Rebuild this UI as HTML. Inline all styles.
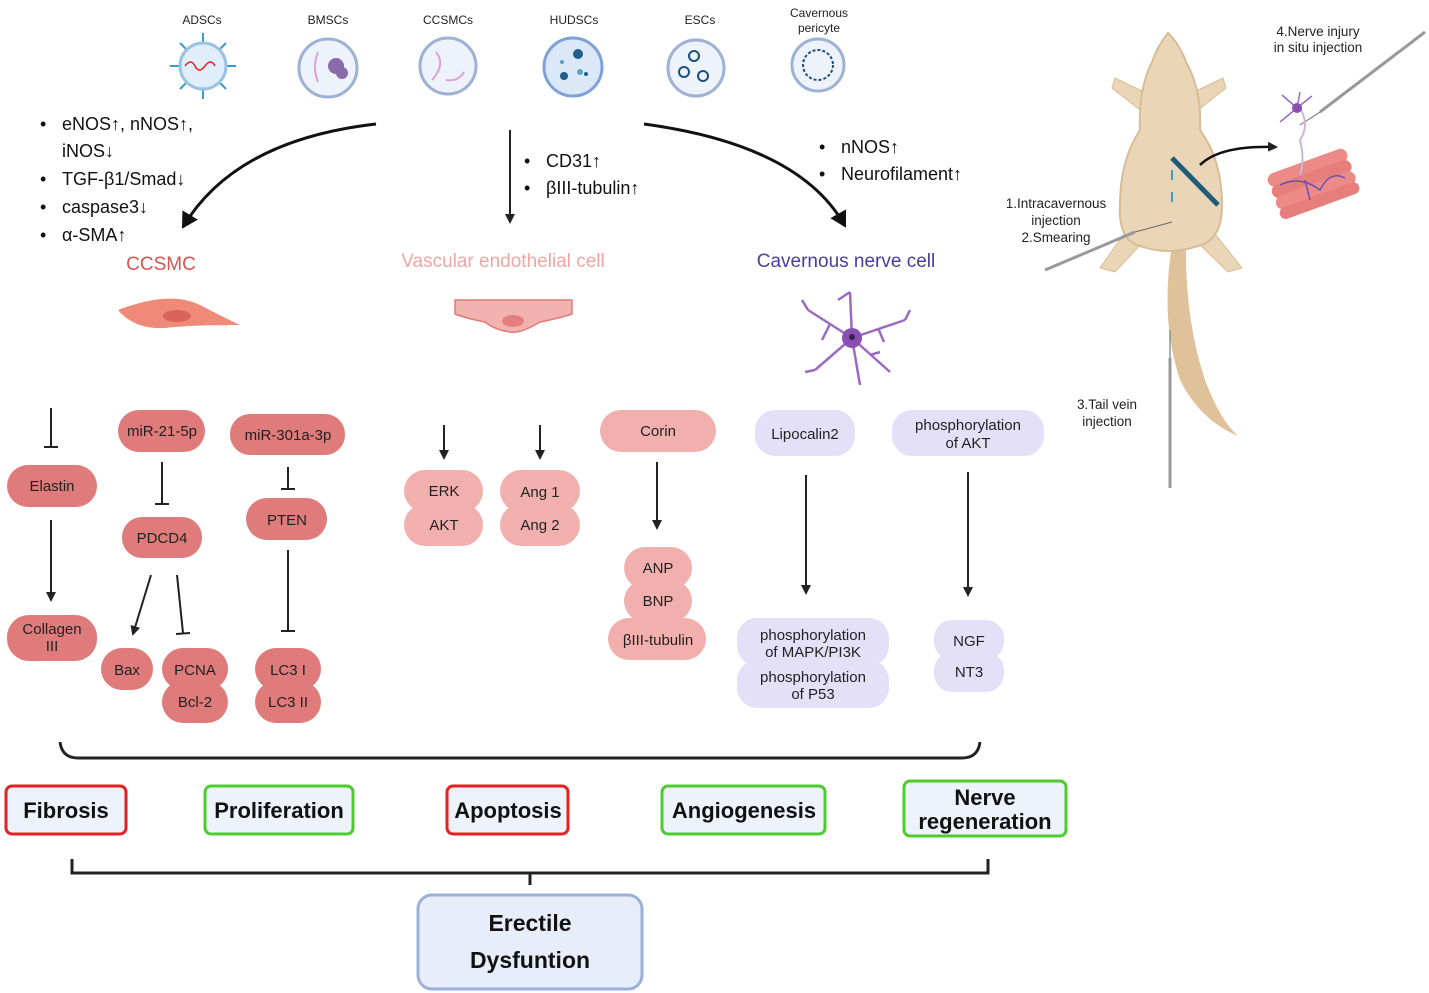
<!DOCTYPE html>
<html><head><meta charset="utf-8"><style>
body{margin:0;background:#fff}
svg{display:block}
text{font-family:"Liberation Sans",sans-serif}
.d{fill:#df7b7b}.l{fill:#f1b0ae}.v{fill:#e4e0f8}
.t{font-size:15px;fill:#222;text-anchor:middle}
</style></head><body>
<svg width="1429" height="993" viewBox="0 0 1429 993" xmlns="http://www.w3.org/2000/svg">
<defs><marker id="a" markerWidth="10" markerHeight="10" refX="8" refY="5" orient="auto" markerUnits="userSpaceOnUse"><path d="M0,0 L10,5 L0,10 z" fill="#222"/></marker>
<marker id="A" markerWidth="18" markerHeight="18" refX="14" refY="9" orient="auto" markerUnits="userSpaceOnUse"><path d="M0,0 L16,9 L0,18 z" fill="#111"/></marker></defs>

<!-- top cells -->
<g font-size="12" fill="#222" text-anchor="middle">
<text x="202" y="24">ADSCs</text><text x="328" y="24">BMSCs</text><text x="448" y="24">CCSMCs</text>
<text x="574" y="24">HUDSCs</text><text x="700" y="24">ESCs</text>
<text x="819" y="17">Cavernous</text><text x="819" y="32">pericyte</text></g>
<g stroke="#3a9cc9" stroke-width="2">
<line x1="170" y1="66" x2="236" y2="66"/><line x1="203" y1="33" x2="203" y2="99"/><line x1="180" y1="43" x2="226" y2="89"/><line x1="226" y1="43" x2="180" y2="89"/></g>
<circle cx="203" cy="66" r="23" fill="#dfeefa" stroke="#9ac3e3" stroke-width="3"/>
<path d="M185,66 q6,-8 10,0 t10,0 t10,0" stroke="#d22" fill="none" stroke-width="1.5"/>
<g stroke="#9cb1d4" stroke-width="3" fill="#eef3fb">
<circle cx="328" cy="68" r="29"/><circle cx="448" cy="66" r="28"/><circle cx="573" cy="67" r="29" fill="#dbe8f7" stroke="#7fa2d6"/><circle cx="696" cy="68" r="28"/><circle cx="818" cy="65" r="26"/></g>
<circle cx="336" cy="66" r="8" fill="#8a6aa8"/><circle cx="342" cy="73" r="6" fill="#8a6aa8"/>
<path d="M318,52 q-6,15 0,30 M436,52 q10,12 -4,28 M446,80 q12,2 18,-8" stroke="#d9a0d9" fill="none" stroke-width="2"/>
<circle cx="578" cy="54" r="5" fill="#1f5e86"/><circle cx="564" cy="76" r="4" fill="#1f5e86"/><circle cx="580" cy="72" r="3" fill="#5aa0b8"/><circle cx="586" cy="74" r="2" fill="#1f5e86"/><circle cx="562" cy="62" r="2" fill="#5aa0b8"/>
<g fill="none" stroke="#1b4f7e" stroke-width="2"><circle cx="694" cy="56" r="5"/><circle cx="684" cy="72" r="5"/><circle cx="703" cy="76" r="5"/><circle cx="818" cy="65" r="15" stroke-dasharray="3 2"/></g>

<!-- main arrows -->
<path d="M376,124 Q235,140 183,227" stroke="#111" stroke-width="3" fill="none" marker-end="url(#A)"/>
<line x1="510" y1="130" x2="510" y2="222" stroke="#222" stroke-width="2" marker-end="url(#a)"/>
<path d="M644,124 Q800,145 845,226" stroke="#111" stroke-width="3" fill="none" marker-end="url(#A)"/>
<g font-size="18" fill="#111">
<text x="40" y="130">•</text><text x="62" y="130">eNOS↑, nNOS↑,</text><text x="62" y="157">iNOS↓</text>
<text x="40" y="185">•</text><text x="62" y="185">TGF-β1/Smad↓</text>
<text x="40" y="213">•</text><text x="62" y="213">caspase3↓</text>
<text x="40" y="241">•</text><text x="62" y="241">α-SMA↑</text>
<text x="524" y="167">•</text><text x="546" y="167">CD31↑</text>
<text x="524" y="194">•</text><text x="546" y="194">βIII-tubulin↑</text>
<text x="819" y="153">•</text><text x="841" y="153">nNOS↑</text>
<text x="819" y="180">•</text><text x="841" y="180">Neurofilament↑</text></g>
<g font-size="19" text-anchor="middle">
<text x="161" y="270" fill="#d9534f">CCSMC</text><text x="503" y="267" fill="#f0a6a4">Vascular endothelial cell</text><text x="846" y="267" fill="#4b3d9a">Cavernous nerve cell</text></g>

<!-- cell drawings -->
<path d="M118,310 Q170,290 200,305 Q225,318 240,325 Q190,325 165,328 Q135,330 118,310z" fill="#ef8a78"/>
<ellipse cx="177" cy="316" rx="14" ry="6" fill="#d9645a"/>
<path d="M455,300 H572 V314 Q560,318 540,322 Q520,334 510,332 Q495,330 485,322 Q465,318 455,314z" fill="#f2b3b0" stroke="#e07a78" stroke-width="1.5"/>
<ellipse cx="513" cy="321" rx="11" ry="6" fill="#e57f7d"/>
<g stroke="#9a6bc2" stroke-width="2.5" fill="none">
<path d="M852,338 L850,292 M852,338 L808,310 M852,338 L905,320 M852,338 L815,370 M852,338 L890,372 M852,338 L860,385 M850,292 L838,300 M808,310 L802,300 M905,320 L910,310 M815,370 L805,372 M830,324 L822,340 M878,328 L884,342 M870,355 L880,352"/></g>
<circle cx="852" cy="338" r="10" fill="#8a4fb2"/><circle cx="852" cy="337" r="3" fill="#3a1e55"/>

<!-- inhibition / arrows mid -->
<g stroke="#222" stroke-width="2" fill="none">
<line x1="51" y1="408" x2="51" y2="447"/><line x1="44" y1="447" x2="58" y2="447"/>
<line x1="51" y1="520" x2="51" y2="600" marker-end="url(#a)"/>
<line x1="162" y1="462" x2="162" y2="504"/><line x1="155" y1="504" x2="169" y2="504"/>
<line x1="151" y1="575" x2="133" y2="634" marker-end="url(#a)"/>
<line x1="177" y1="575" x2="183" y2="633"/><line x1="176" y1="634" x2="190" y2="633"/>
<line x1="288" y1="467" x2="288" y2="489"/><line x1="281" y1="489" x2="295" y2="489"/>
<line x1="288" y1="550" x2="288" y2="631"/><line x1="281" y1="631" x2="295" y2="631"/>
<line x1="444" y1="425" x2="444" y2="458" marker-end="url(#a)"/>
<line x1="540" y1="425" x2="540" y2="458" marker-end="url(#a)"/>
<line x1="657" y1="462" x2="657" y2="528" marker-end="url(#a)"/>
<line x1="806" y1="475" x2="806" y2="593" marker-end="url(#a)"/>
<line x1="968" y1="472" x2="968" y2="595" marker-end="url(#a)"/>
</g>

<!-- pills -->
<g>
<rect class="d" x="7" y="465" width="90" height="42" rx="21"/><rect class="d" x="7" y="615" width="90" height="46" rx="22"/>
<rect class="d" x="118" y="410" width="87" height="42" rx="21"/><rect class="d" x="122" y="517" width="80" height="41" rx="20"/>
<rect class="d" x="230" y="414" width="115" height="41" rx="20"/><rect class="d" x="246" y="498" width="81" height="42" rx="21"/>
<rect class="d" x="101" y="648" width="52" height="42" rx="21"/>
<rect class="d" x="162" y="648" width="66" height="42" rx="21"/><rect class="d" x="162" y="681" width="66" height="42" rx="21"/>
<rect class="d" x="255" y="648" width="66" height="42" rx="21"/><rect class="d" x="255" y="681" width="66" height="42" rx="21"/>
<rect class="l" x="404" y="470" width="79" height="42" rx="21"/><rect class="l" x="404" y="504" width="79" height="42" rx="21"/>
<rect class="l" x="500" y="470" width="80" height="42" rx="21"/><rect class="l" x="500" y="504" width="80" height="42" rx="21"/>
<rect class="l" x="600" y="410" width="116" height="42" rx="21"/>
<rect class="l" x="624" y="547" width="68" height="42" rx="21"/><rect class="l" x="624" y="580" width="68" height="42" rx="21"/>
<rect class="l" x="608" y="618" width="98" height="42" rx="21"/>
<rect class="v" x="755" y="410" width="100" height="46" rx="20"/><rect class="v" x="892" y="410" width="152" height="46" rx="20"/>
<rect class="v" x="737" y="618" width="152" height="48" rx="20"/><rect class="v" x="737" y="660" width="152" height="48" rx="20"/>
<rect class="v" x="934" y="620" width="70" height="40" rx="18"/><rect class="v" x="934" y="652" width="70" height="40" rx="18"/>
</g>
<g>
<text class="t" x="52" y="491">Elastin</text><text class="t" x="52" y="634">Collagen</text><text class="t" x="52" y="651">III</text>
<text class="t" x="162" y="436">miR-21-5p</text><text class="t" x="162" y="543">PDCD4</text>
<text class="t" x="288" y="440">miR-301a-3p</text><text class="t" x="287" y="525">PTEN</text>
<text class="t" x="127" y="675">Bax</text><text class="t" x="195" y="675">PCNA</text><text class="t" x="195" y="707">Bcl-2</text>
<text class="t" x="288" y="675">LC3 I</text><text class="t" x="288" y="707">LC3 II</text>
<text class="t" x="444" y="496">ERK</text><text class="t" x="444" y="530">AKT</text>
<text class="t" x="540" y="497">Ang 1</text><text class="t" x="540" y="530">Ang 2</text>
<text class="t" x="658" y="436">Corin</text><text class="t" x="658" y="573">ANP</text><text class="t" x="658" y="606">BNP</text><text class="t" x="658" y="645">βIII-tubulin</text>
<text class="t" x="805" y="439">Lipocalin2</text><text class="t" x="968" y="430">phosphorylation</text><text class="t" x="968" y="448">of AKT</text>
<text class="t" x="813" y="640">phosphorylation</text><text class="t" x="813" y="657">of MAPK/PI3K</text>
<text class="t" x="813" y="682">phosphorylation</text><text class="t" x="813" y="699">of P53</text>
<text class="t" x="969" y="646">NGF</text><text class="t" x="969" y="677">NT3</text>
</g>

<!-- brace -->
<path d="M60,742 Q62,758 78,758 H962 Q978,758 980,742" stroke="#222" stroke-width="3" fill="none"/>

<!-- outcomes -->
<g stroke-width="3" fill="#eef2fb">
<rect x="6" y="786" width="120" height="48" rx="6" stroke="#e52222"/>
<rect x="205" y="786" width="148" height="48" rx="6" stroke="#4ccc2e"/>
<rect x="447" y="786" width="121" height="48" rx="6" stroke="#e52222"/>
<rect x="662" y="786" width="163" height="48" rx="6" stroke="#4ccc2e"/>
<rect x="904" y="781" width="162" height="55" rx="6" stroke="#4ccc2e"/>
</g>
<g font-size="22" font-weight="bold" fill="#111" text-anchor="middle">
<text x="66" y="818">Fibrosis</text><text x="279" y="818">Proliferation</text><text x="508" y="818">Apoptosis</text>
<text x="744" y="818">Angiogenesis</text><text x="985" y="805">Nerve</text><text x="985" y="829">regeneration</text></g>
<path d="M72,859 V873 H988 V859 M530,873 V885" stroke="#222" stroke-width="3" fill="none"/>
<rect x="418" y="895" width="224" height="94" rx="14" fill="#e8eef9" stroke="#9ab0d8" stroke-width="3"/>
<g font-size="23" font-weight="bold" fill="#111" text-anchor="middle"><text x="530" y="931">Erectile</text><text x="530" y="968">Dysfuntion</text></g>

<!-- rat -->
<path d="M1172,245 Q1160,320 1180,380 Q1200,420 1238,436 Q1220,420 1205,380 Q1185,320 1186,245z" fill="#e0c29a"/>
<path d="M1150,95 L1115,78 L1112,88 L1140,110z M1188,95 L1223,78 L1226,88 L1198,110z M1130,225 L1100,268 L1115,272 L1145,240z M1208,225 L1242,268 L1228,272 L1195,240z" fill="#ead6b6" stroke="#d8bc95"/>
<path d="M1168,33 Q1158,45 1152,62 Q1138,90 1140,130 Q1120,160 1120,205 Q1118,240 1140,246 Q1168,256 1198,246 Q1222,240 1222,205 Q1222,160 1200,130 Q1202,90 1186,62 Q1180,45 1168,33z" fill="#ead6b6" stroke="#d8bc95" stroke-width="2"/>
<path d="M1172,158 L1218,205" stroke="#1f5c7a" stroke-width="5"/>
<path d="M1172,170 V180 M1172,192 V202" stroke="#3a9cc9" stroke-width="2"/>
<path d="M1200,165 Q1220,145 1276,147" stroke="#111" stroke-width="2.5" fill="none" marker-end="url(#a)"/>
<g stroke="#999" stroke-width="3"><line x1="1045" y1="270" x2="1135" y2="232"/><line x1="1170" y1="358" x2="1170" y2="488"/><line x1="1320" y1="112" x2="1425" y2="32"/></g>
<line x1="1135" y1="232" x2="1172" y2="222" stroke="#666"/><line x1="1170" y1="358" x2="1170" y2="330" stroke="#666"/><line x1="1320" y1="112" x2="1300" y2="125" stroke="#666"/>
<g transform="rotate(-20 1312 180)"><rect x="1270" y="160" width="84" height="14" rx="7" fill="#ec8a88"/><rect x="1270" y="172" width="84" height="14" rx="7" fill="#e67e7c"/><rect x="1270" y="184" width="84" height="14" rx="7" fill="#ec8a88"/><rect x="1270" y="196" width="84" height="12" rx="6" fill="#e67e7c"/></g>
<path d="M1280,185 Q1300,175 1320,190 Q1330,170 1345,178 M1305,180 L1310,200" stroke="#6a4fb0" fill="none" stroke-width="1.5"/>
<path d="M1300,108 Q1310,125 1300,140 Q1305,160 1300,175" stroke="#c8b8d8" stroke-width="2" fill="none"/>
<g stroke="#9a6bc2" stroke-width="1.5"><path d="M1297,108 L1282,95 M1297,108 L1312,96 M1297,108 L1280,122 M1297,108 L1300,92"/></g>
<circle cx="1297" cy="108" r="5" fill="#8a4fb2"/>
<g font-size="13.5" fill="#222" text-anchor="middle">
<text x="1318" y="36">4.Nerve injury</text><text x="1318" y="52">in situ injection</text>
<text x="1056" y="208">1.Intracavernous</text><text x="1056" y="225">injection</text><text x="1056" y="242">2.Smearing</text>
<text x="1107" y="409">3.Tail vein</text><text x="1107" y="426">injection</text></g>
</svg>
</body></html>
